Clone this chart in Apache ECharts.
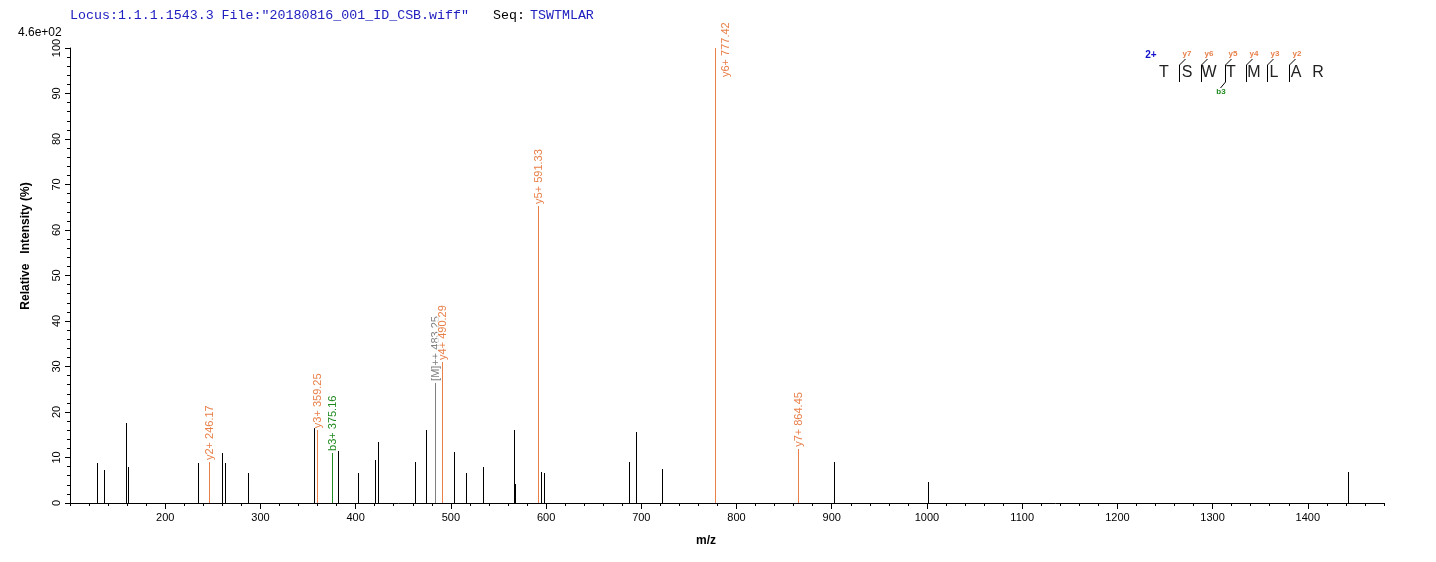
<!DOCTYPE html>
<html>
<head>
<meta charset="utf-8">
<script src="https://cdn.jsdelivr.net/npm/echarts@6/dist/echarts.min.js"></script>
<style>
html,body{margin:0;padding:0;background:#fff;}
#chart{width:1436px;height:562px;}
</style>
</head>
<body>
<div id="chart"></div>
<script>
// ---- data ----
const unlabeledMz = [128.6, 135.9, 159.1, 161.2, 234.7, 259.9, 263.0, 287.2, 356.4, 381.6, 402.6, 420.5, 423.6, 462.5, 474.0, 503.4, 516.0, 533.8, 566.4, 567.5, 594.8, 598.0, 687.2, 694.5, 721.8, 902.3, 1001.0, 1442.0];
const unlabeledIntensity = [8.8, 7.3, 17.6, 7.9, 8.8, 11.0, 8.8, 6.6, 16.5, 11.4, 6.6, 9.5, 13.4, 9.0, 16.0, 11.2, 6.6, 7.9, 16.0, 4.2, 6.8, 6.6, 9.0, 15.6, 7.5, 9.0, 4.6, 6.8];
const ionMz = [246.17, 359.25, 375.16, 483.25, 490.29, 591.33, 777.42, 864.45];
const ionIntensity = [9.0, 16.0, 11.0, 26.4, 31.0, 65.3, 100, 11.9];
const ionLabels = ['y2+ 246.17', 'y3+ 359.25', 'b3+ 375.16', '[M]++ 483.25', 'y4+ 490.29', 'y5+ 591.33', 'y6+ 777.42', 'y7+ 864.45'];
const ionKinds = ['y', 'y', 'b', 'M', 'y', 'y', 'y', 'y'];
const xTickLabels = ['200', '300', '400', '500', '600', '700', '800', '900', '1000', '1100', '1200', '1300', '1400'];
const yTickLabels = ['0', '10', '20', '30', '40', '50', '60', '70', '80', '90', '100'];
const sequence = ['T', 'S', 'W', 'T', 'M', 'L', 'A', 'R'];
const yIonNames = ['y7', 'y6', 'y5', 'y4', 'y3', 'y2'];
const bIonNames = ['b3'];

// ---- styles ----
const ORANGE = '#e8804a';
const GREEN = '#1f8a1f';
const GRAY = '#808080';
const BLUE = '#2020c0';
const kindColor = {y: ORANGE, b: GREEN, M: GRAY, '': '#000'};

const peaks = unlabeledMz.map((m, i) => [m, unlabeledIntensity[i], '', '']);
ionMz.forEach((m, i) => peaks.push([m, ionIntensity[i], ionKinds[i], ionLabels[i]]));

function renderPeak(params, api) {
  const idx = params.dataIndex;
  const d = peaks[idx];
  const p0 = api.coord([d[0], 0]);
  const p1 = api.coord([d[0], d[1]]);
  const x = Math.round(p0[0]) + 0.5;
  const color = kindColor[d[2]];
  const children = [{
    type: 'line',
    shape: {x1: x, y1: Math.round(p0[1]), x2: x, y2: Math.round(p1[1])},
    style: {stroke: color, lineWidth: 1}
  }];
  if (d[3]) {
    let tx = x, ty = p1[1] - 2;
    if (ty - 80 < 10) { tx = x + 10; ty = p1[1] + 29; }
    children.push({
      type: 'text',
      x: tx, y: ty, rotation: Math.PI / 2,
      style: {
        text: d[3], fill: color, font: '11px Arial, "Liberation Sans", sans-serif',
        align: 'left', verticalAlign: 'middle',
        backgroundColor: 'rgba(255,255,255,0.7)'
      }
    });
  }
  return {type: 'group', children: children};
}

const chart = echarts.init(document.getElementById('chart'), null, {renderer: 'canvas'});

// peptide annotation graphics
const letterX = [1164, 1187, 1209, 1231, 1254, 1274, 1296, 1318];
const cutX = [1179, 1201, 1225, 1246, 1267, 1289];
const monoFont = '13.3px "Courier New", "Liberation Mono", monospace';
const g = [];
g.push({type: 'text', x: 70, y: 15, style: {text: 'Locus:1.1.1.1543.3 File:"20180816_001_ID_CSB.wiff"', fill: BLUE, font: monoFont, verticalAlign: 'middle'}});
g.push({type: 'text', x: 493, y: 15, style: {text: 'Seq:', fill: '#000', font: monoFont, verticalAlign: 'middle'}});
g.push({type: 'text', x: 530, y: 15, style: {text: 'TSWTMLAR', fill: BLUE, font: monoFont, verticalAlign: 'middle'}});
g.push({type: 'text', x: 18, y: 33, style: {text: '4.6e+02', fill: '#000', font: '12px Arial, "Liberation Sans", sans-serif', verticalAlign: 'middle'}});
g.push({type: 'text', x: 26, y: 246, rotation: Math.PI / 2, style: {text: 'Relative   Intensity (%)', fill: '#000', font: 'bold 12px Arial, "Liberation Sans", sans-serif', align: 'center', verticalAlign: 'middle'}});
g.push({type: 'text', x: 706, y: 541, style: {text: 'm/z', fill: '#000', font: 'bold 12px Arial, "Liberation Sans", sans-serif', align: 'center', verticalAlign: 'middle'}});
g.push({type: 'text', x: 1151, y: 55, style: {text: '2+', fill: '#1010c8', font: 'bold 10px Arial, "Liberation Sans", sans-serif', align: 'center', verticalAlign: 'middle'}});
sequence.forEach((s, i) => {
  g.push({type: 'text', x: letterX[i], y: 73, style: {text: s, fill: '#222', font: '16px Arial, "Liberation Sans", sans-serif', align: 'center', verticalAlign: 'middle'}});
});
yIonNames.forEach((n, i) => {
  const cx = cutX[i];
  g.push({type: 'polyline', shape: {points: [[cx + 6.5, 59], [cx + 0.5, 65], [cx + 0.5, 82]]}, style: {stroke: '#000', lineWidth: 1, fill: null}});
  g.push({type: 'text', x: cx + 8, y: 54, style: {text: n, fill: ORANGE, font: 'bold 8px Arial, "Liberation Sans", sans-serif', align: 'center', verticalAlign: 'middle'}});
});
bIonNames.forEach((n) => {
  const cx = 1225;
  g.push({type: 'polyline', shape: {points: [[cx + 0.5, 65], [cx + 0.5, 82], [cx - 4.5, 88]]}, style: {stroke: '#000', lineWidth: 1, fill: null}});
  g.push({type: 'text', x: 1221, y: 92, style: {text: n, fill: GREEN, font: 'bold 8px Arial, "Liberation Sans", sans-serif', align: 'center', verticalAlign: 'middle'}});
});

const axisFont = {color: '#000', fontSize: 11, fontFamily: 'Arial, "Liberation Sans", sans-serif'};

chart.setOption({
  animation: false,
  backgroundColor: '#fff',
  grid: {left: 70, right: 52, top: 48, bottom: 59, containLabel: false},
  xAxis: [{
    type: 'value', min: 100, max: 1480, interval: 100,
    axisLine: {lineStyle: {color: '#000', width: 1}},
    axisTick: {length: 6, lineStyle: {color: '#000'}},
    axisLabel: {
      ...axisFont, margin: 9, showMinLabel: false, showMaxLabel: false,
      formatter: (v) => xTickLabels.includes(String(v)) ? String(v) : ''
    },
    splitLine: {show: false}
  }, {
    type: 'value', min: 100, max: 1480, interval: 20, position: 'bottom',
    axisLine: {show: false},
    axisTick: {length: 3, lineStyle: {color: '#000'}},
    axisLabel: {show: false},
    splitLine: {show: false}
  }],
  yAxis: {
    type: 'value', min: 0, max: 100, interval: 10,
    axisLine: {show: true, lineStyle: {color: '#000', width: 1}},
    axisTick: {show: true, length: 5, lineStyle: {color: '#000'}},
    minorTick: {show: true, splitNumber: 5, length: 3, lineStyle: {color: '#000'}},
    axisLabel: {...axisFont, rotate: 90, margin: 8, formatter: (v) => yTickLabels.includes(String(v)) ? String(v) : ''},
    splitLine: {show: false}
  },
  series: [{
    type: 'custom',
    xAxisIndex: 0,
    renderItem: renderPeak,
    data: peaks.map(p => [p[0], p[1]]),
    clip: false,
    z: 5
  }],
  graphic: g
});
</script>
</body>
</html>
